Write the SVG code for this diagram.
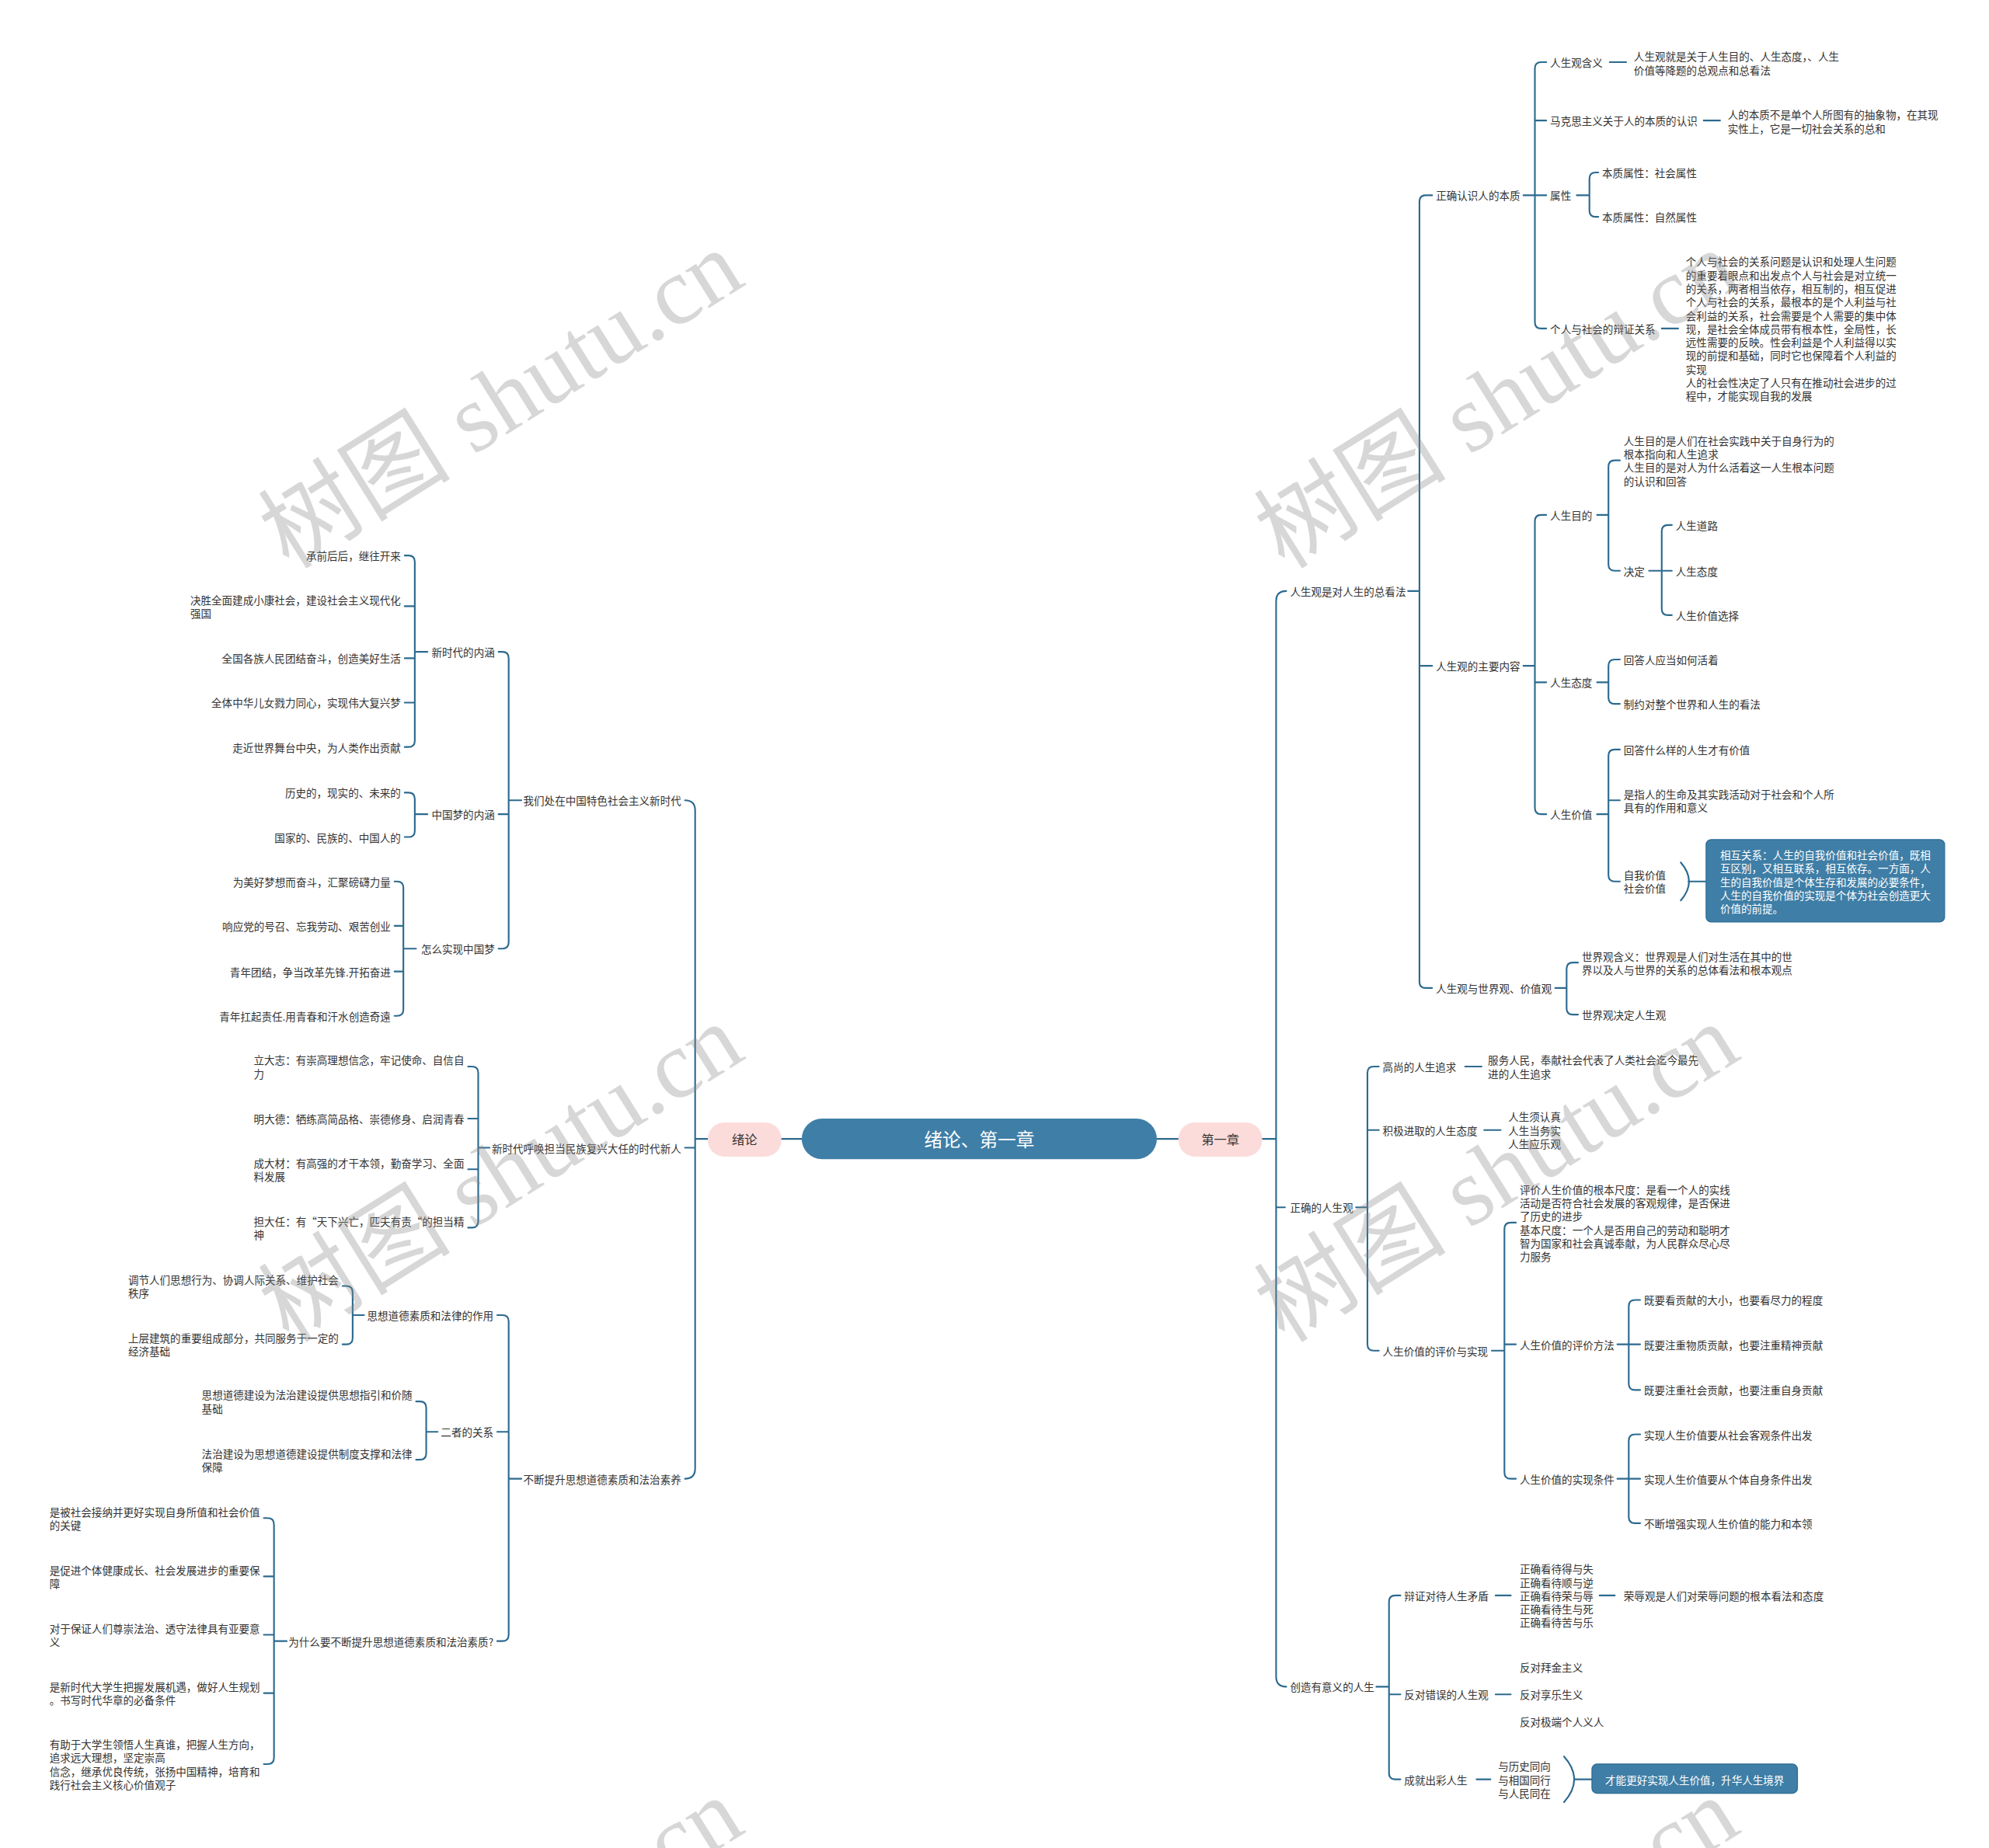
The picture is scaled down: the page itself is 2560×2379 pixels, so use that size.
<svg xmlns="http://www.w3.org/2000/svg" width="2560" height="2379" viewBox="0 0 2560 2379">
<style>
.t{font-family:"Noto Sans CJK SC","Noto Sans",sans-serif;font-size:8.3px;fill:#333;dominant-baseline:central}
.e{text-anchor:end}
.w{fill:#fff}
.c{fill:none;stroke:#2c6a8f;stroke-width:1.3;stroke-linecap:round}
.pill{fill:#fbdcda}
.box{fill:#3f7ea6;stroke:#2f6d95;stroke-width:0.8}
.wm{font-family:"Liberation Serif","Noto Sans CJK SC",serif;font-size:76px;fill:#888;opacity:0.33;text-anchor:middle;dominant-baseline:central}
</style>
<rect width="2560" height="2379" fill="#fff"/>
<g transform="scale(1.6326531)">
<g id="connectors">
<path class="c" d="M616 898H632M912 898H929"/>
<path class="c" d="M995 898H1006M1014 466Q1006 466 1006 474V1322Q1006 1330 1014 1330M1006 952H1013"/>
<path class="c" d="M1110 466H1119M1129 154H1124Q1119 154 1119 159V774Q1119 779 1124 779H1129M1119 525H1129"/>
<path class="c" d="M1201 154H1210M1219 49H1215Q1210 49 1210 54V254Q1210 259 1215 259H1219M1210 95H1219M1210 154H1219"/>
<path class="c" d="M1269 49H1282M1343 95H1356M1310 259H1323"/>
<path class="c" d="M1243 154H1253M1260 136H1258Q1253 136 1253 141V166Q1253 171 1258 171H1260"/>
<path class="c" d="M1201 525H1210M1219 406H1215Q1210 406 1210 411V637Q1210 642 1215 642H1219M1210 538H1219"/>
<path class="c" d="M1259 406H1268M1277 363H1273Q1268 363 1268 368V445Q1268 450 1273 450H1277"/>
<path class="c" d="M1300 450H1310M1318 414H1315Q1310 414 1310 419V480Q1310 485 1315 485H1318M1310 450H1318"/>
<path class="c" d="M1259 538H1268M1277 520H1273Q1268 520 1268 525V550Q1268 555 1273 555H1277"/>
<path class="c" d="M1259 642H1268M1277 591H1273Q1268 591 1268 596V690Q1268 695 1273 695H1277M1268 631H1277"/>
<path class="c" d="M1325 680Q1338 695 1325 710M1331 695H1345"/>
<path class="c" d="M1226 779H1235M1244 759H1240Q1235 759 1235 764V795Q1235 800 1240 800H1244"/>
<path class="c" d="M1069 952H1078M1087 841H1083Q1078 841 1078 846V1060Q1078 1065 1083 1065H1087M1078 891H1087"/>
<path class="c" d="M1155 841H1168M1170 891H1183"/>
<path class="c" d="M1176 1065H1186M1195 964H1191Q1186 964 1186 969V1161Q1186 1166 1191 1166H1195M1186 1060H1195"/>
<path class="c" d="M1275 1060H1284M1293 1025H1289Q1284 1025 1284 1030V1091Q1284 1096 1289 1096H1293M1284 1060H1293"/>
<path class="c" d="M1275 1166H1284M1293 1131H1289Q1284 1131 1284 1136V1196Q1284 1201 1289 1201H1293M1284 1166H1293"/>
<path class="c" d="M1085 1330H1095M1104 1258H1100Q1095 1258 1095 1263V1398Q1095 1403 1100 1403H1104M1095 1336H1104"/>
<path class="c" d="M1179 1258H1191M1261 1258H1273M1179 1336H1191M1164 1403H1175"/>
<path class="c" d="M1233 1385Q1249 1403 1233 1421M1241 1403H1255"/>
<path class="c" d="M558 898H548M540 631Q548 631 548 639V1158Q548 1166 540 1166M548 905H540"/>
<path class="c" d="M411 631H401M393 514H396Q401 514 401 519V743Q401 748 396 748H393M401 642H393"/>
<path class="c" d="M337 514H327M319 438H322Q327 438 327 443V584Q327 589 322 589H319M327 478H319M327 519H319M327 554H319"/>
<path class="c" d="M337 642H327M319 625H322Q327 625 327 630V655Q327 660 322 660H319"/>
<path class="c" d="M328 748H318M311 695H313Q318 695 318 700V796Q318 801 313 801H311M318 730H311M318 766H311"/>
<path class="c" d="M386 905H377M369 841H372Q377 841 377 846V963Q377 968 372 968H369M377 882H369M377 922H369"/>
<path class="c" d="M411 1166H401M392 1037H396Q401 1037 401 1042V1289Q401 1294 396 1294H392M401 1129H392"/>
<path class="c" d="M287 1037H278M270 1014H273Q278 1014 278 1019V1055Q278 1060 273 1060H270"/>
<path class="c" d="M345 1129H336M328 1105H331Q336 1105 336 1110V1146Q336 1151 331 1151H328"/>
<path class="c" d="M226 1294H216M208 1197H211Q216 1197 216 1202V1386Q216 1391 211 1391H208M216 1243H208M216 1289H208M216 1335H208"/>
</g>

<g id="root"><rect x="632" y="882" width="280" height="32" rx="16" fill="#3f7ea6"/><text class="t w" x="772" y="898" style="font-size:14.5px;text-anchor:middle">绪论、第一章</text></g>
<g id="n-xulun"><rect class="pill" x="558" y="885" width="58" height="27" rx="13"/><text class="t" x="587" y="898" style="font-size:10px;text-anchor:middle">绪论</text></g>
<g id="n-ch1"><rect class="pill" x="929" y="885" width="66" height="27" rx="13"/><text class="t" x="962" y="898" style="font-size:10px;text-anchor:middle">第一章</text></g>

<!-- right side -->
<g id="r1"><text class="t" x="1017" y="466">人生观是对人生的总看法</text></g>
<g id="r2"><text class="t" x="1017" y="952">正确的人生观</text></g>
<g id="r3"><text class="t" x="1017" y="1330">创造有意义的人生</text></g>
<g id="r1a"><text class="t" x="1132" y="154">正确认识人的本质</text></g>
<g id="r1b"><text class="t" x="1132" y="525">人生观的主要内容</text></g>
<g id="r1c"><text class="t" x="1132" y="779">人生观与世界观、价值观</text></g>
<g id="r1a1"><text class="t" x="1222" y="49">人生观含义</text></g>
<g id="r1a1x"><text class="t"><tspan x="1288" y="44">人生观就是关于人生目的、人生态度，、人生</tspan><tspan x="1288" y="55">价值等降题的总观点和总看法</tspan></text></g>
<g id="r1a2"><text class="t" x="1222" y="95">马克思主义关于人的本质的认识</text></g>
<g id="r1a2x"><text class="t"><tspan x="1362" y="90">人的本质不是单个人所图有的抽象物，在其现</tspan><tspan x="1362" y="101">实性上，它是一切社会关系的总和</tspan></text></g>
<g id="r1a3"><text class="t" x="1222" y="154">属性</text></g>
<g id="r1a3a"><text class="t" x="1263" y="136">本质属性：社会属性</text></g>
<g id="r1a3b"><text class="t" x="1263" y="171">本质属性：自然属性</text></g>
<g id="r1a4"><text class="t" x="1222" y="259">个人与社会的辩证关系</text></g>
<g id="r1a4x"><text class="t"><tspan x="1329" y="206">个人与社会的关系问题是认识和处理人生问题</tspan><tspan x="1329" y="216.6">的重要着眼点和出发点个人与社会是对立统一</tspan><tspan x="1329" y="227.2">的关系，两者相当依存，相互制的，相互促进</tspan><tspan x="1329" y="237.8">个人与社会的关系，最根本的是个人利益与社</tspan><tspan x="1329" y="248.4">会利益的关系，社会需要是个人需要的集中体</tspan><tspan x="1329" y="259">现，是社会全体成员带有根本性，全局性，长</tspan><tspan x="1329" y="269.6">远性需要的反映。性会利益是个人利益得以实</tspan><tspan x="1329" y="280.2">现的前提和基础，同时它也保障着个人利益的</tspan><tspan x="1329" y="290.8">实现</tspan><tspan x="1329" y="301.4">人的社会性决定了人只有在推动社会进步的过</tspan><tspan x="1329" y="312">程中，才能实现自我的发展</tspan></text></g>
<g id="r1b1"><text class="t" x="1222" y="406">人生目的</text></g>
<g id="r1b1a"><text class="t"><tspan x="1280" y="347.1">人生目的是人们在社会实践中关于自身行为的</tspan><tspan x="1280" y="357.7">根本指向和人生追求</tspan><tspan x="1280" y="368.3">人生目的是对人为什么活着这一人生根本问题</tspan><tspan x="1280" y="378.9">的认识和回答</tspan></text></g>
<g id="r1b1b"><text class="t" x="1280" y="450">决定</text></g>
<g id="r1b1b1"><text class="t" x="1321" y="414">人生道路</text></g>
<g id="r1b1b2"><text class="t" x="1321" y="450">人生态度</text></g>
<g id="r1b1b3"><text class="t" x="1321" y="485">人生价值选择</text></g>
<g id="r1b2"><text class="t" x="1222" y="538">人生态度</text></g>
<g id="r1b2a"><text class="t" x="1280" y="520">回答人应当如何活着</text></g>
<g id="r1b2b"><text class="t" x="1280" y="555">制约对整个世界和人生的看法</text></g>
<g id="r1b3"><text class="t" x="1222" y="642">人生价值</text></g>
<g id="r1b3a"><text class="t" x="1280" y="591">回答什么样的人生才有价值</text></g>
<g id="r1b3b"><text class="t"><tspan x="1280" y="625.7">是指人的生命及其实践活动对于社会和个人所</tspan><tspan x="1280" y="636.3">具有的作用和意义</tspan></text></g>
<g id="r1b3c"><text class="t"><tspan x="1280" y="689.7">自我价值</tspan><tspan x="1280" y="700.3">社会价值</tspan></text></g>
<g id="r1b3d"><rect class="box" x="1345" y="662" width="188" height="65" rx="4"/><text class="t w"><tspan x="1356" y="673.8">相互关系：人生的自我价值和社会价值，既相</tspan><tspan x="1356" y="684.4">互区别，又相互联系，相互依存。一方面，人</tspan><tspan x="1356" y="695">生的自我价值是个体生存和发展的必要条件，</tspan><tspan x="1356" y="705.6">人生的自我价值的实现是个体为社会创造更大</tspan><tspan x="1356" y="716.2">价值的前提。</tspan></text></g>
<g id="r1c1"><text class="t"><tspan x="1247" y="753.7">世界观含义：世界观是人们对生活在其中的世</tspan><tspan x="1247" y="764.3">界以及人与世界的关系的总体看法和根本观点</tspan></text></g>
<g id="r1c2"><text class="t" x="1247" y="800">世界观决定人生观</text></g>
<g id="r2a"><text class="t" x="1090" y="841">高尚的人生追求</text></g>
<g id="r2ax"><text class="t"><tspan x="1173" y="835.7">服务人民，奉献社会代表了人类社会迄今最先</tspan><tspan x="1173" y="846.3">进的人生追求</tspan></text></g>
<g id="r2b"><text class="t" x="1090" y="891">积极进取的人生态度</text></g>
<g id="r2bx"><text class="t"><tspan x="1189" y="880.4">人生须认真</tspan><tspan x="1189" y="891">人生当务实</tspan><tspan x="1189" y="901.6">人生应乐观</tspan></text></g>
<g id="r2c"><text class="t" x="1090" y="1065">人生价值的评价与实现</text></g>
<g id="r2c1"><text class="t"><tspan x="1198" y="937.5">评价人生价值的根本尺度：是看一个人的实线</tspan><tspan x="1198" y="948.1">活动是否符合社会发展的客观规律，是否保进</tspan><tspan x="1198" y="958.7">了历史的进步</tspan><tspan x="1198" y="969.3">基本尺度：一个人是否用自己的劳动和聪明才</tspan><tspan x="1198" y="979.9">智为国家和社会真诚奉献，为人民群众尽心尽</tspan><tspan x="1198" y="990.5">力服务</tspan></text></g>
<g id="r2c2"><text class="t" x="1198" y="1060">人生价值的评价方法</text></g>
<g id="r2c2a"><text class="t" x="1296" y="1025">既要看贡献的大小，也要看尽力的程度</text></g>
<g id="r2c2b"><text class="t" x="1296" y="1060">既要注重物质贡献，也要注重精神贡献</text></g>
<g id="r2c2c"><text class="t" x="1296" y="1096">既要注重社会贡献，也要注重自身贡献</text></g>
<g id="r2c3"><text class="t" x="1198" y="1166">人生价值的实现条件</text></g>
<g id="r2c3a"><text class="t" x="1296" y="1131">实现人生价值要从社会客观条件出发</text></g>
<g id="r2c3b"><text class="t" x="1296" y="1166">实现人生价值要从个体自身条件出发</text></g>
<g id="r2c3c"><text class="t" x="1296" y="1201">不断增强实现人生价值的能力和本领</text></g>
<g id="r3a"><text class="t" x="1107" y="1258">辩证对待人生矛盾</text></g>
<g id="r3ax"><text class="t"><tspan x="1198" y="1236.8">正确看待得与失</tspan><tspan x="1198" y="1247.4">正确看待顺与逆</tspan><tspan x="1198" y="1258">正确看待荣与辱</tspan><tspan x="1198" y="1268.6">正确看待生与死</tspan><tspan x="1198" y="1279.2">正确看待苦与乐</tspan></text></g>
<g id="r3ay"><text class="t" x="1280" y="1258">荣辱观是人们对荣辱问题的根本看法和态度</text></g>
<g id="r3b"><text class="t" x="1107" y="1336">反对错误的人生观</text></g>
<g id="r3bx"><text class="t"><tspan x="1198" y="1314.5">反对拜金主义</tspan><tspan x="1198" y="1336">反对享乐生义</tspan><tspan x="1198" y="1357.5">反对极端个人义人</tspan></text></g>
<g id="r3c"><text class="t" x="1107" y="1403">成就出彩人生</text></g>
<g id="r3cx"><text class="t"><tspan x="1181" y="1392.4">与历史同向</tspan><tspan x="1181" y="1403">与相国同行</tspan><tspan x="1181" y="1413.6">与人民同在</tspan></text></g>
<g id="r3cy"><rect class="box" x="1255" y="1391" width="162" height="23" rx="4"/><text class="t w" x="1336" y="1403" style="text-anchor:middle">才能更好实现人生价值，升华人生境界</text></g>

<!-- left side -->
<g id="l1"><text class="t e" x="537" y="631">我们处在中国特色社会主义新时代</text></g>
<g id="l2"><text class="t e" x="537" y="905">新时代呼唤担当民族复兴大任的时代新人</text></g>
<g id="l3"><text class="t e" x="537" y="1166">不断提升思想道德素质和法治素养</text></g>
<g id="l1a"><text class="t e" x="390" y="514">新时代的内涵</text></g>
<g id="l1a1"><text class="t e" x="316" y="438">承前后后，继往开来</text></g>
<g id="l1a2"><text class="t"><tspan x="150" y="472.7">决胜全面建成小康社会，建设社会主义现代化</tspan><tspan x="150" y="483.3">强国</tspan></text></g>
<g id="l1a3"><text class="t e" x="316" y="519">全国各族人民团结奋斗，创造美好生活</text></g>
<g id="l1a4"><text class="t e" x="316" y="554">全体中华儿女戮力同心，实现伟大复兴梦</text></g>
<g id="l1a5"><text class="t e" x="316" y="589">走近世界舞台中央，为人类作出贡献</text></g>
<g id="l1b"><text class="t e" x="390" y="642">中国梦的内涵</text></g>
<g id="l1b1"><text class="t e" x="316" y="625">历史的，现实的、未来的</text></g>
<g id="l1b2"><text class="t e" x="316" y="660">国家的、民族的、中国人的</text></g>
<g id="l1c"><text class="t e" x="390" y="748">怎么实现中国梦</text></g>
<g id="l1c1"><text class="t e" x="308" y="695">为美好梦想而奋斗，汇聚磅礴力量</text></g>
<g id="l1c2"><text class="t e" x="308" y="730">响应党的号召、忘我劳动、艰苦创业</text></g>
<g id="l1c3"><text class="t e" x="308" y="766">青年团结，争当改革先锋.开拓奋进</text></g>
<g id="l1c4"><text class="t e" x="308" y="801">青年扛起责任.用青春和汗水创造奇遠</text></g>
<g id="l2a"><text class="t"><tspan x="200" y="835.7">立大志：有崇高理想信念，牢记使命、自信自</tspan><tspan x="200" y="846.3">力</tspan></text></g>
<g id="l2b"><text class="t e" x="366" y="882">明大德：牺练高简品格、崇德修身、启润青春</text></g>
<g id="l2c"><text class="t"><tspan x="200" y="916.7">成大材：有高强的才干本领，勤奋学习、全面</tspan><tspan x="200" y="927.3">料发展</tspan></text></g>
<g id="l2d"><text class="t"><tspan x="200" y="962.7">担大任：有“天下兴亡，匹夫有责“的担当精</tspan><tspan x="200" y="973.3">神</tspan></text></g>
<g id="l3a"><text class="t e" x="389" y="1037">思想道德素质和法律的作用</text></g>
<g id="l3a1"><text class="t"><tspan x="101" y="1008.7">调节人们思想行为、协调人际关系、维护社会</tspan><tspan x="101" y="1019.3">秩序</tspan></text></g>
<g id="l3a2"><text class="t"><tspan x="101" y="1054.7">上层建筑的重要组成部分，共同服务于一定的</tspan><tspan x="101" y="1065.3">经济基础</tspan></text></g>
<g id="l3b"><text class="t e" x="389" y="1129">二者的关系</text></g>
<g id="l3b1"><text class="t"><tspan x="159" y="1099.7">思想道德建设为法治建设提供思想指引和价随</tspan><tspan x="159" y="1110.3">基础</tspan></text></g>
<g id="l3b2"><text class="t"><tspan x="159" y="1145.7">法治建设为思想道德建设提供制度支撑和法律</tspan><tspan x="159" y="1156.3">保障</tspan></text></g>
<g id="l3c"><text class="t e" x="389" y="1294">为什么要不断提升思想道德素质和法治素质?</text></g>
<g id="l3c1"><text class="t"><tspan x="39" y="1191.7">是被社会接纳并更好实现自身所值和社会价值</tspan><tspan x="39" y="1202.3">的关键</tspan></text></g>
<g id="l3c2"><text class="t"><tspan x="39" y="1237.7">是促进个体健康成长、社会发展进步的重要保</tspan><tspan x="39" y="1248.3">障</tspan></text></g>
<g id="l3c3"><text class="t"><tspan x="39" y="1283.7">对于保证人们尊崇法治、透守法律具有亚要意</tspan><tspan x="39" y="1294.3">义</tspan></text></g>
<g id="l3c4"><text class="t"><tspan x="39" y="1329.7">是新时代大学生把握发展机遇，做好人生规划</tspan><tspan x="39" y="1340.3">。书写时代华章的必备条件</tspan></text></g>
<g id="l3c5"><text class="t"><tspan x="39" y="1375.1">有助于大学生领悟人生真谁，把握人生方向，</tspan><tspan x="39" y="1385.7">追求远大理想，坚定崇高</tspan><tspan x="39" y="1396.3">信念，继承优良传统，张扬中国精神，培育和</tspan><tspan x="39" y="1406.9">践行社会主义核心价值观子</tspan></text></g>

<g id="watermarks">
<text class="wm" transform="translate(395 315) rotate(-32)">树图 shutu.cn</text>
<text class="wm" transform="translate(1180 315) rotate(-32)">树图 shutu.cn</text>
<text class="wm" transform="translate(395 925) rotate(-32)">树图 shutu.cn</text>
<text class="wm" transform="translate(1180 925) rotate(-32)">树图 shutu.cn</text>
<text class="wm" transform="translate(395 1535) rotate(-32)">树图 shutu.cn</text>
<text class="wm" transform="translate(1180 1535) rotate(-32)">树图 shutu.cn</text>
</g>
</g>
</svg>
